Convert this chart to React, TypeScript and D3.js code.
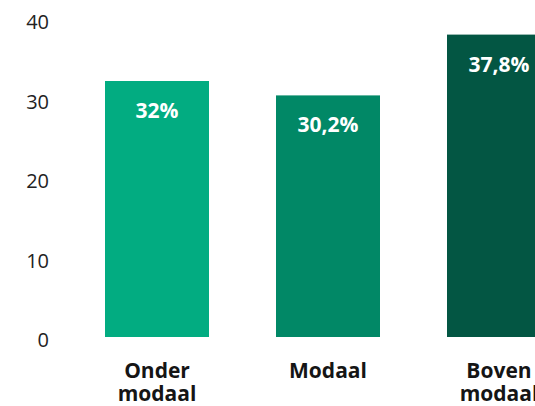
import React from 'react';
import { scaleBand, scaleLinear } from 'd3';

const categories = ['Onder modaal', 'Modaal', 'Boven modaal'];
const values = [32, 30.2, 37.8];
const valueLabels = ['32%', '30,2%', '37,8%'];
const colors = ['#02ac81', '#018866', '#035643'];
const ticks = [0, 10, 20, 30, 40];

const width = 535;
const height = 406;
const margin = { top: 17, bottom: 69 };
const step = 171;
const gap = 67;
const firstBar = 105;

const innerHeight = height - margin.top - margin.bottom;

const font = "'Open Sans', 'Noto Sans', sans-serif";

function App() {
  const pad = gap / step;
  const xScale = scaleBand()
    .domain(categories)
    .range([firstBar - gap / 2, firstBar - gap / 2 + step * 3])
    .paddingInner(pad)
    .paddingOuter(pad / 2);

  const yScale = scaleLinear()
    .domain([0, 40])
    .range([margin.top + innerHeight, margin.top]);

  return (
    <svg
      width={width}
      height={height}
      style={{ position: 'absolute', left: 0, top: 0, display: 'block' }}
    >
      {ticks.map(t => (
        <text
          key={t}
          x={49}
          y={yScale(t) + 10 + (t / 40) * 2}
          textAnchor="end"
          fontFamily={font}
          fontSize={20}
          fill="#222"
        >
          {t}
        </text>
      ))}
      {categories.map((c, i) => {
        const x = xScale(c)!;
        const bw = xScale.bandwidth();
        return (
          <g key={c}>
            <rect
              x={x}
              y={yScale(values[i])}
              width={bw}
              height={yScale(0) - yScale(values[i])}
              fill={colors[i]}
            />
            <text
              x={x + bw / 2}
              y={yScale(values[i]) + 37}
              textAnchor="middle"
              fontFamily={font}
              fontWeight={700}
              fontSize={21}
              fill="#fff"
            >
              {valueLabels[i]}
            </text>
            {c.split(' ').map((word, j) => (
              <text
                key={word}
                x={x + bw / 2}
                y={378 + j * 23}
                textAnchor="middle"
                fontFamily={font}
                fontWeight={700}
                fontSize={21}
                fill="#151515"
              >
                {word}
              </text>
            ))}
          </g>
        );
      })}
    </svg>
  );
}

export default App;
